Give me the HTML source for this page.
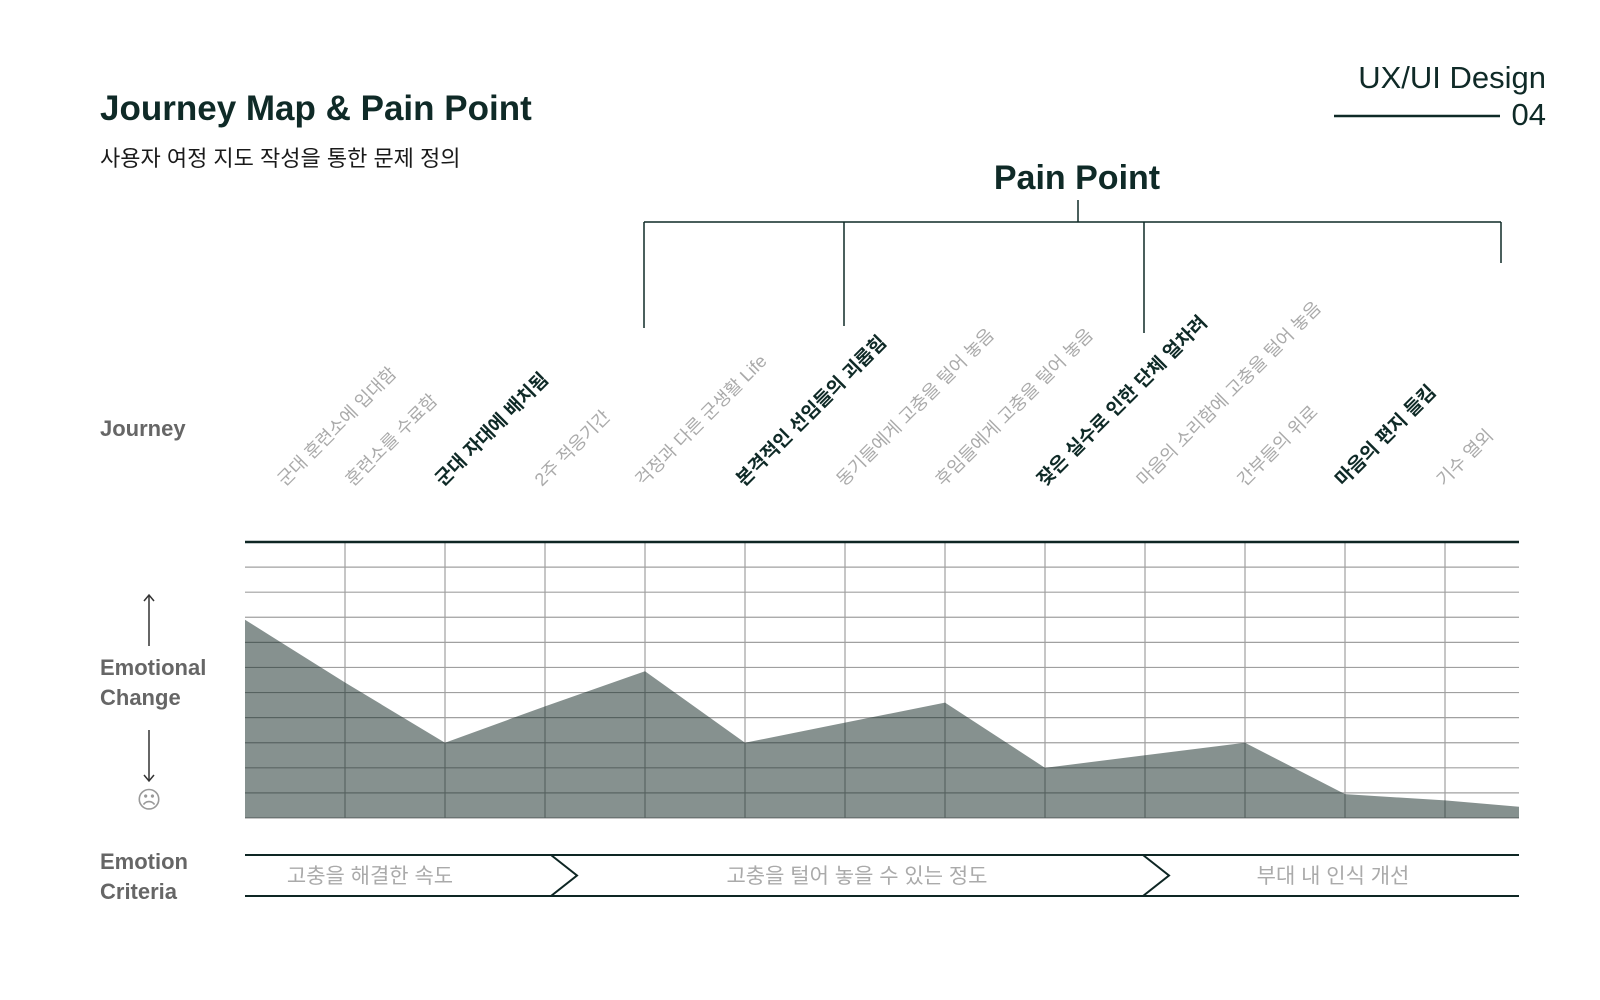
<!DOCTYPE html>
<html><head><meta charset="utf-8"><style>
html,body{margin:0;padding:0;background:#fff;}
svg{display:block;font-family:"Liberation Sans","Noto Sans CJK KR",sans-serif;}
</style></head><body>
<svg id="chart" width="1600" height="1000" viewBox="0 0 1600 1000">
<text x="100" y="120" font-size="35" font-weight="bold" fill="#0f2a27">Journey Map &amp; Pain Point</text>
<text x="100" y="166" font-size="22" fill="#1a1a1a">사용자 여정 지도 작성을 통한 문제 정의</text>
<text x="1546" y="88" font-size="31" text-anchor="end" fill="#0f2a27">UX/UI Design</text>
<text x="1546" y="125" font-size="31" text-anchor="end" fill="#0f2a27">04</text>
<line x1="1334" y1="116" x2="1500" y2="116" stroke="#0f2a27" stroke-width="2.5"/>
<text x="1077" y="189" font-size="34" font-weight="bold" text-anchor="middle" fill="#0f2a27">Pain Point</text>
<g stroke="#0f2a27" stroke-width="1.5" fill="none">
<line x1="1078" y1="200" x2="1078" y2="222"/>
<line x1="644" y1="222" x2="1501" y2="222"/>
<line x1="644" y1="222" x2="644" y2="328"/>
<line x1="844" y1="222" x2="844" y2="326"/>
<line x1="1144" y1="222" x2="1144" y2="333"/>
<line x1="1501" y1="222" x2="1501" y2="263"/>
</g>
<text x="100" y="436" font-size="22" font-weight="bold" fill="#666">Journey</text>
<text x="100" y="675" font-size="22" font-weight="bold" fill="#666"><tspan x="100">Emotional</tspan><tspan x="100" dy="30">Change</tspan></text>
<g stroke="#333" stroke-width="1.5" fill="none">
<line x1="149" y1="595" x2="149" y2="646"/><polyline points="144,601 149,595 154,601"/>
<line x1="149" y1="730" x2="149" y2="781"/><polyline points="144,775 149,781 154,775"/>
</g>
<text x="149" y="808" font-size="24" text-anchor="middle" fill="#999">☹</text>
<text x="100" y="869" font-size="22" font-weight="bold" fill="#666"><tspan x="100">Emotion</tspan><tspan x="100" dy="30">Criteria</tspan></text>
<g id="labels"></g>
<g id="plot"></g>
<g id="criteria"></g>
</svg>
<script>
const steps = ["군대 훈련소에 입대함","훈련소를 수료함","군대 자대에 배치됨","2주 적응기간","걱정과 다른 군생활 Life","본격적인 선임들의 괴롭힘","동기들에게 고충을 털어 놓음","후임들에게 고충을 털어 놓음","잦은 실수로 인한 단체 얼차려","마음의 소리함에 고충을 털어 놓음","간부들의 위로","마음의 편지 들킴","기수 열외"];
const painFlags = [0,0,1,0,0,1,0,0,1,0,0,1,0];
const emotionValues = [7.9,5.4,3.0,4.45,5.85,3.0,3.8,4.6,2.0,2.5,3.0,0.95,0.7];
const endValue = 0.45;
const criteriaLabels = ["고충을 해결한 속도","고충을 털어 놓을 수 있는 정도","부대 내 인식 개선"];
const criteriaBreaks = [0, 3.06, 8.98, 12.72];

const NS="http://www.w3.org/2000/svg";
const PL=245,PR=1519,PT=542,PB=818,COLW=100,ROWS=11;
const yMax=11;
const xs=i=>PL+i*COLW;
const ys=v=>PB-(v/yMax)*(PB-PT);
function mk(t,a,p){const e=document.createElementNS(NS,t);for(const k in a)e.setAttribute(k,a[k]);p.appendChild(e);return e;}

const lg=document.getElementById('labels');
const offs=[40,8,-2,-3,-2,-1,-1,-2,0,-1,0,-2,-1];
steps.forEach((s,i)=>{
  const x=xs(i)+offs[i], y=487;
  const t=mk('text',{x:x,y:y,transform:`rotate(-45 ${x} ${y})`,'font-size':painFlags[i]?19:18,fill:painFlags[i]?'#0f2a27':'#aaa','font-weight':painFlags[i]?'bold':'normal'},lg);
  t.textContent=s;
  
  
});

const pg=document.getElementById('plot');
let pts=emotionValues.map((v,i)=>`${xs(i)},${ys(v)}`);
pts.push(`${PR},${ys(endValue)}`);
const area=mk('polygon',{points:`${PL},${PB} `+pts.join(' ')+` ${PR},${PB}`,fill:'#86918f'},pg);


const gridW=mk('g',{stroke:'#a0a0a0','stroke-width':1.2},pg);


for(let r=1;r<=ROWS;r++){const y=PT+r*(PB-PT)/ROWS;mk('line',{x1:PL,y1:y,x2:PR,y2:y},gridW);}
for(let c=1;c<steps.length;c++){mk('line',{x1:xs(c),y1:PT,x2:xs(c),y2:PB},gridW);}
const defs=mk('defs',{},pg);
const cp=mk('clipPath',{id:'ac'},defs);
mk('polygon',{points:`${PL},${PB} `+pts.join(' ')+` ${PR},${PB}`},cp);
const gridD=mk('g',{stroke:'#566260','stroke-width':1.2,'clip-path':'url(#ac)'},pg);


for(let r=1;r<=ROWS;r++){const y=PT+r*(PB-PT)/ROWS;mk('line',{x1:PL,y1:y,x2:PR,y2:y},gridD);}
for(let c=1;c<steps.length;c++){mk('line',{x1:xs(c),y1:PT,x2:xs(c),y2:PB},gridD);}
const topLine=mk('line',{x1:PL,y1:PT,x2:PR,y2:PT,stroke:'#0e2624','stroke-width':2.5},pg);



const cg=document.getElementById('criteria');
const cy1=855,cy2=896;
const labelShift=[-28,0,-8];
const ln1=mk('line',{x1:PL,y1:cy1,x2:PR,y2:cy1,stroke:'#0e2624','stroke-width':2},cg);


const ln2=mk('line',{x1:PL,y1:cy2,x2:PR,y2:cy2,stroke:'#0e2624','stroke-width':2},cg);


criteriaLabels.forEach((c,i)=>{
  const a=xs(criteriaBreaks[i]), b=(i==criteriaLabels.length-1)?PR:xs(criteriaBreaks[i+1]);
  const t=mk('text',{x:(a+b)/2+(i==0?0:10)+labelShift[i],y:883,'font-size':21,'text-anchor':'middle',fill:'#aaa'},cg);
  t.textContent=c;
  
  
  if(i<criteriaLabels.length-1){
    const p=mk('polyline',{points:`${b},${cy1} ${b+26},${(cy1+cy2)/2} ${b},${cy2}`,fill:'none',stroke:'#0e2624','stroke-width':2},cg);
    
    
  }
});
</script>
</body></html>
